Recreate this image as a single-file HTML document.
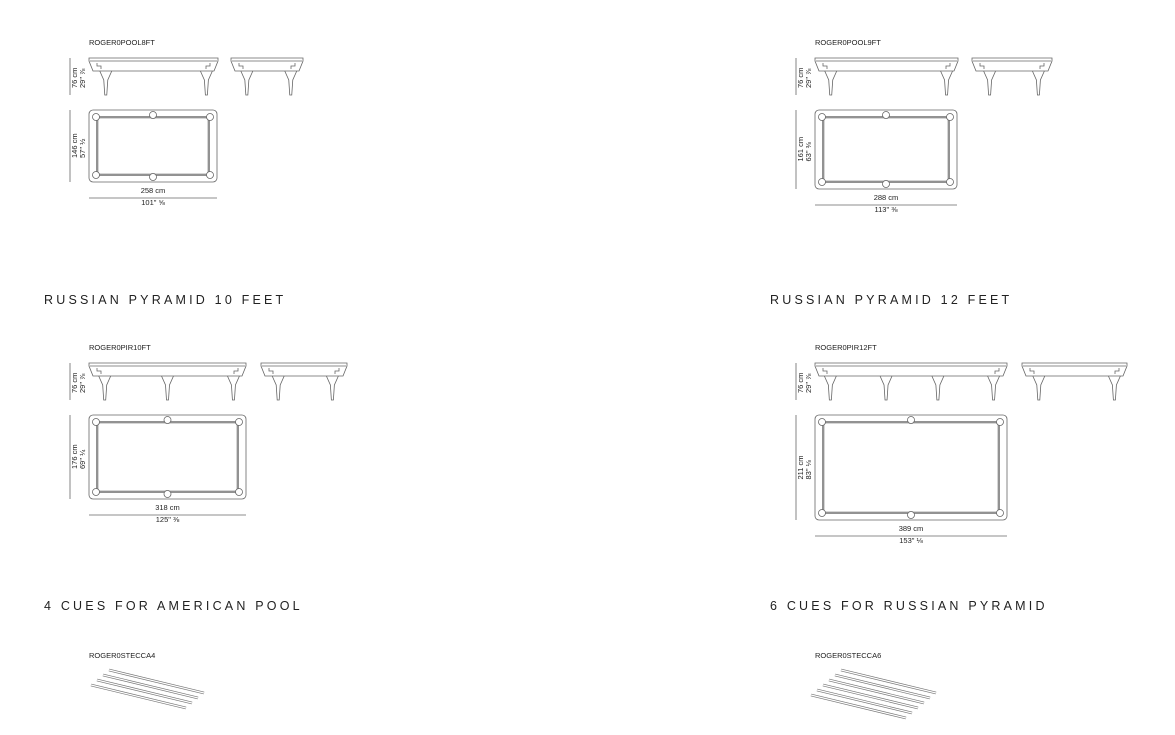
<!DOCTYPE html>
<html><head><meta charset="utf-8"><style>
body{margin:0;background:#fff;width:1175px;height:735px;overflow:hidden}
svg{display:block}
text{font-family:"Liberation Sans",sans-serif;fill:#222}
.t{font-size:12.5px;letter-spacing:3.2px;fill:#222}
.c{font-size:7.5px}
</style></head><body>
<svg id="s" width="1175" height="735" xmlns="http://www.w3.org/2000/svg" stroke="#666" fill="none" stroke-width="0.8">
<text class="t" x="44" y="304" stroke="none">RUSSIAN PYRAMID 10 FEET</text>
<text class="t" x="770" y="304" stroke="none">RUSSIAN PYRAMID 12 FEET</text>
<text class="t" x="44" y="610" stroke="none">4 CUES FOR AMERICAN POOL</text>
<text class="t" x="770" y="610" stroke="none">6 CUES FOR RUSSIAN PYRAMID</text>
</svg>
<script>
var s=document.getElementById('s'),h='';
function T(x,y,t,rot,anchor){h+='<text class="c" stroke="none" x="'+x+'" y="'+y+'" text-anchor="'+(anchor||'start')+'"'+(rot?' transform="rotate(-90 '+x+' '+y+')"':'')+'>'+t+'</text>';}
function L(a,b,c,d){h+='<line x1="'+a+'" y1="'+b+'" x2="'+c+'" y2="'+d+'"/>';}
function side(x,y,w,legs){
 h+='<path d="M'+x+' '+y+'h'+w+'v3l-4 10h-'+(w-8)+'l-4 -10z"/>';
 L(x+1,y+3,x+w-1,y+3);
 legs.forEach(function(f){var lx=x+f*w;
  h+='<path d="M'+(lx-6)+' '+(y+13)+'l4 9l1 15h2l1 -15l4 -9"/>';});
 h+='<path d="M'+(x+8)+' '+(y+5)+'v3h4v3M'+(x+w-8)+' '+(y+5)+'v3h-4v3"/>';
}
function plan(x,y,w,hh,mid){
 h+='<rect x="'+x+'" y="'+y+'" width="'+w+'" height="'+hh+'" rx="4"/>';
 h+='<rect x="'+(x+8)+'" y="'+(y+7)+'" width="'+(w-16)+'" height="'+(hh-14)+'" stroke-width="1.6" stroke="#777"/>';
 h+='<rect x="'+(x+9.5)+'" y="'+(y+8.5)+'" width="'+(w-19)+'" height="'+(hh-17)+'" stroke="#ccc"/>';
 var p=[[x+7,y+7],[x+w-7,y+7],[x+7,y+hh-7],[x+w-7,y+hh-7]];
 mid.forEach(function(f){p.push([x+f*w,y+5]);p.push([x+f*w,y+hh-5]);});
 p.forEach(function(q){h+='<circle cx="'+q[0]+'" cy="'+q[1]+'" r="3.5" fill="#fff"/>';});
}
function block(x,code,sw,ex,ew,legs,elegs,pw,ph,cm,inch,vcm,vin,mid){
 var y=code[1];T(x,y,code[0]);
 var sy=y+13;side(x,sy,sw,legs);side(ex,sy,ew,elegs);
 L(x-19,sy,x-19,sy+37);T(x-12,sy+30,'76 cm',1);T(x-4,sy+30,'29" ⅞',1);
 var py=sy+52;plan(x,py,pw,ph,mid);
 L(x-19,py,x-19,py+ph);T(x-12,py+ph/2+12,vcm,1);T(x-4,py+ph/2+12,vin,1);
 var dy=py+ph+16;L(x,dy,x+pw,dy);T(x+pw/2,dy-5,cm,0,'middle');T(x+pw/2,dy+7,inch,0,'middle');
}
block(89,['ROGER0POOL8FT',45],129,231,72,[0.13,0.91],[0.22,0.83],128,72,'258 cm','101" ⅝','146 cm','57" ½',[0.5]);
block(815,['ROGER0POOL9FT',45],143,972,80,[0.11,0.92],[0.22,0.83],142,79,'288 cm','113" ⅜','161 cm','63" ⅜',[0.5]);
block(89,['ROGER0PIR10FT',350],157,261,86,[0.1,0.5,0.92],[0.2,0.83],157,84,'318 cm','125" ⅜','176 cm','69" ¼',[0.5]);
block(815,['ROGER0PIR12FT',350],192,1022,105,[0.08,0.37,0.64,0.93],[0.16,0.88],192,105,'389 cm','153" ⅛','211 cm','83" ⅛',[0.5]);
function cues(x,y,n,code){T(x,y,code);
 for(var i=0;i<n;i++){var sx=x+20-i*6+(n==6?6:0),sy=y+12+i*5,ex=sx+95,ey=sy+23;
  h+='<line x1="'+sx+'" y1="'+sy+'" x2="'+ex+'" y2="'+ey+'" stroke-width="2.6" stroke="#777"/>';
  h+='<line x1="'+sx+'" y1="'+sy+'" x2="'+ex+'" y2="'+ey+'" stroke-width="1.2" stroke="#fff"/>';}
}
cues(89,658,4,'ROGER0STECCA4');cues(815,658,6,'ROGER0STECCA6');
s.insertAdjacentHTML('beforeend',h);
</script>
</body></html>
